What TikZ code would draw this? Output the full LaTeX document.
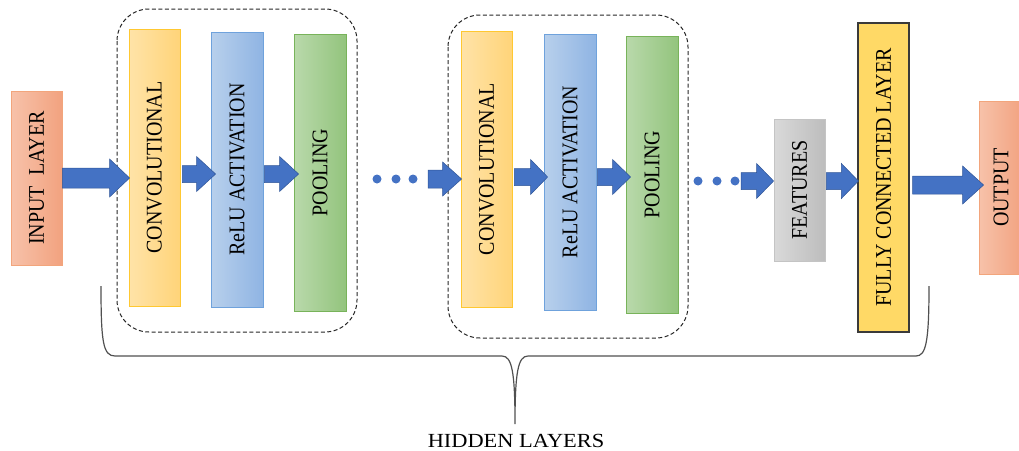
\documentclass[tikz,border=0pt]{standalone}
\usepackage{fontspec}
\setmainfont{Liberation Serif}
\usetikzlibrary{calc}

\definecolor{inL}{HTML}{F7C2AA}
\definecolor{inR}{HTML}{F2A27F}
\definecolor{inE}{HTML}{F2A57C}
\definecolor{cvL}{HTML}{FFE3A8}
\definecolor{cvR}{HTML}{FFD479}
\definecolor{cvE}{HTML}{FFC831}
\definecolor{reL}{HTML}{B8D0EC}
\definecolor{reR}{HTML}{8FB4E3}
\definecolor{reE}{HTML}{6FA2DC}
\definecolor{poL}{HTML}{B9D9AB}
\definecolor{poR}{HTML}{93C47D}
\definecolor{poE}{HTML}{78B35A}
\definecolor{ftL}{HTML}{D9D9D9}
\definecolor{ftR}{HTML}{BDBDBD}
\definecolor{ftE}{HTML}{C4C4C4}
\definecolor{fcF}{HTML}{FFD966}
\definecolor{fcE}{HTML}{3A3A3A}
\definecolor{arrowblue}{HTML}{4472C4}
\definecolor{arrowedge}{HTML}{2F5597}
\definecolor{bracegray}{HTML}{505050}

% upright label turned to read bottom-to-top
\newcommand{\vlabel}[1]{\rotatebox{90}{\scalebox{1}[1.12]{#1}}}

\tikzset{
  layer/.style={rectangle, inner sep=0pt, line width=0.8pt, text=black},
  inputbox/.style={layer, draw=inE, left color=inL, right color=inR},
  convbox/.style={layer, draw=cvE, left color=cvL, right color=cvR},
  relubox/.style={layer, draw=reE, left color=reL, right color=reR},
  poolbox/.style={layer, draw=poE, left color=poL, right color=poR},
  featbox/.style={layer, draw=ftE, left color=ftL, right color=ftR},
  fcbox/.style={layer, draw=fcE, fill=fcF, line width=1.2pt},
  group/.style={draw=black!85, line width=1pt, dash pattern=on 4pt off 2.5pt, rounded corners=32pt},
  dotn/.style={circle, fill=arrowblue, minimum size=9pt, inner sep=0pt},
  % block arrow: shaft half-height / head half-height / head length
  flow/.style args={#1/#2/#3}{fill=arrowblue, draw=arrowedge, line width=0.5pt,
    to path={let \p1=(\tikztostart), \p2=(\tikztotarget) in
      (\x1,{\y1+#1}) -- ({\x2-#3},{\y1+#1}) -- ({\x2-#3},{\y1+#2}) -- (\x2,\y1)
      -- ({\x2-#3},{\y1-#2}) -- ({\x2-#3},{\y1-#1}) -- (\x1,{\y1-#1}) -- cycle}},
}

\begin{document}
\begin{tikzpicture}[x=1pt, y=-1pt, font=\fontsize{20}{24}\selectfont]
\useasboundingbox (0,0) rectangle (1019,450);
\clip (0,0) rectangle (1019,450);

% grouping frames
\draw[group] (117,9) rectangle (357,332);
\draw[group] (448,15) rectangle (688,338);

% layers
\node[inputbox, minimum width=51pt, minimum height=174pt] (in) at (36.5,178) {\vlabel{INPUT\ \ LAYER}};
\node[convbox, minimum width=51pt, minimum height=277pt] (c1) at (154.5,167.5) {\vlabel{CONVOLUTIONAL}};
\node[relubox, minimum width=52pt, minimum height=275pt] (r1) at (237,169.5) {\vlabel{ReLU ACTIVATION}};
\node[poolbox, minimum width=52pt, minimum height=277pt] (p1) at (320,172.5) {\vlabel{POOLING}};
\node[convbox, minimum width=51pt, minimum height=276pt] (c2) at (486.5,169) {\vlabel{CONVOLUTIONAL}};
\node[relubox, minimum width=52pt, minimum height=276pt] (r2) at (570,172) {\vlabel{ReLU ACTIVATION}};
\node[poolbox, minimum width=52pt, minimum height=277pt] (p2) at (652,174.5) {\vlabel{POOLING}};
\node[featbox, minimum width=51pt, minimum height=142pt] (ft) at (799.5,190) {\vlabel{FEATURES}};
\node[fcbox, minimum width=51pt, minimum height=309pt] (fc) at (883.5,177.5) {\vlabel{FULLY CONNECTED LAYER}};
\node[inputbox, minimum width=44pt, minimum height=173pt] (out) at (1001,187.5) {\vlabel{OUTPUT}};

% ellipsis dots
\node[dotn] (d1) at (377,179) {};
\node[dotn] (d2) at (396,179) {};
\node[dotn] (d3) at (413,179) {};
\node[dotn] (e1) at (698,181) {};
\node[dotn] (e2) at (717,181) {};
\node[dotn] (e3) at (735,181) {};
\coordinate (s1) at (428,179);
\coordinate (s2) at (741,181);

% flow arrows
\draw[flow=10pt/19pt/20pt] (in.east) to ([xshift=1pt]c1.west);
\draw[flow=8.5pt/17.5pt/19pt] ([xshift=2pt,yshift=-6.5pt]c1.east) to ([xshift=5pt]r1.west);
\draw[flow=8.5pt/17.5pt/19pt] ([xshift=1pt,yshift=-4.5pt]r1.east) to ([xshift=5pt]p1.west);
\draw[flow=9pt/17pt/19pt] (s1) to ([xshift=1pt]c2.west);
\draw[flow=8.5pt/17.5pt/17pt] ([xshift=2pt,yshift=-8pt]c2.east) to ([xshift=4pt]r2.west);
\draw[flow=8.5pt/17.5pt/18pt] ([xshift=1pt,yshift=-5pt]r2.east) to ([xshift=5pt]p2.west);
\draw[flow=8.5pt/17.5pt/17pt] (s2) to (ft.west);
\draw[flow=8.5pt/17.5pt/17pt] ([xshift=1pt,yshift=9pt]ft.east) to ([xshift=1pt]fc.west);
\draw[flow=9pt/19pt/21pt] ([xshift=3pt,yshift=-7.5pt]fc.east) to ([xshift=5pt]out.west);

% brace spanning the hidden layers
\draw[bracegray, line width=1.2pt]
  (101,286) .. controls (101,342) and (103,356) .. (115,356)
  -- (502,356) .. controls (512,356) and (515,372) .. (515,424)
  .. controls (515,372) and (518,356) .. (528,356)
  -- (916,356) .. controls (926,356) and (929,342) .. (929,286);
\node[anchor=base, inner sep=0pt] (hid) at (516,447) {\scalebox{1.12}[1]{HIDDEN LAYERS}};
\end{tikzpicture}
\end{document}
